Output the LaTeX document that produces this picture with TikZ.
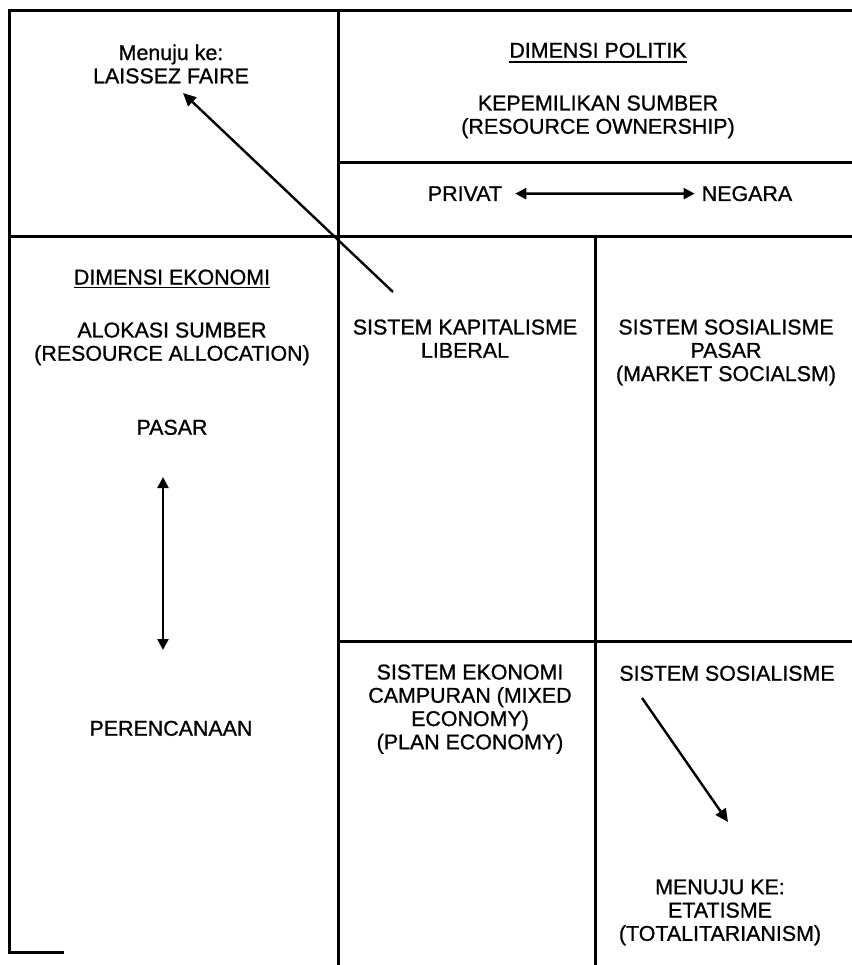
\documentclass[tikz,border=0pt]{standalone}
\usepackage{fontspec}
\setmainfont{Liberation Sans}
\newfontface\heavy{Liberation Sans}[FakeBold=0.9]
\usetikzlibrary{arrows.meta}
\begin{document}
\begin{tikzpicture}[x=1pt,y=-1pt,
  frame/.style={line width=3pt, line cap=rect},
  txt/.style={inner sep=0pt, align=center, font=\heavy\fontsize{21.4}{23.3}\selectfont},
  lbl/.style={inner sep=0pt, font=\heavy\fontsize{21.4}{23.3}\selectfont, anchor=base},
  arr/.style={line width=2.4pt, -{Triangle[length=13pt,width=12pt]}},
  dblarr/.style={line width=2.4pt, {Triangle[length=11pt,width=11pt]}-{Triangle[length=11pt,width=11pt]}},
  uline/.style={line width=1.8pt}]
\useasboundingbox (0,0) rectangle (851,965);
\fill[white] (0,0) rectangle (851,965);

% grid lines
\draw[frame] (9,11) -- (851,11);
\draw[frame] (9,11) -- (9,952) -- (62,952);
\draw[frame] (338,11) -- (338,965);
\draw[frame] (338,163) -- (851,163);
\draw[frame] (9,237) -- (851,237);
\draw[frame] (595,237) -- (595,965);
\draw[frame] (338,641) -- (851,641);

% top-left
\node[txt, anchor=north] (laissez) at (171,44.3) {Menuju ke:\\LAISSEZ FAIRE};

% political dimension
\node[lbl] (dimpol) at (598,57.7) {DIMENSI POLITIK};
\draw[uline] ([yshift=-4pt]dimpol.base west) -- ([yshift=-4pt]dimpol.base east);
\node[txt, anchor=north] (kepemilikan) at (598,95.3) {KEPEMILIKAN SUMBER\\(RESOURCE OWNERSHIP)};
\node[lbl] (privat) at (465,201) {PRIVAT};
\node[lbl] (negara) at (747,201) {NEGARA};
\draw[dblarr, shorten <=13pt, shorten >=7pt] (privat.east) -- (negara.west);

% economic dimension
\node[lbl] (dimeko) at (172,284.5) {DIMENSI EKONOMI};
\draw[uline] ([yshift=-3pt]dimeko.base west) -- ([yshift=-3pt]dimeko.base east);
\node[txt, anchor=north] (alokasi) at (172,322.3) {ALOKASI SUMBER\\(RESOURCE ALLOCATION)};
\node[lbl] (pasar) at (172,434.7) {PASAR};
\node[lbl] (perenc) at (171,735.7) {PERENCANAAN};
\coordinate (pTop) at (163,477);
\coordinate (pBot) at (163,650);
\draw[dblarr] (pTop) -- (pBot);

% cells
\node[txt, anchor=north] (kapitalisme) at (465,319.3) {SISTEM KAPITALISME\\LIBERAL};
\node[txt, anchor=north] (sospasar) at (726,319.3) {SISTEM SOSIALISME\\PASAR\\(MARKET SOCIALSM)};
\node[txt, anchor=north] (campuran) at (470,664.3) {SISTEM EKONOMI\\CAMPURAN (MIXED\\ECONOMY)\\(PLAN ECONOMY)};
\node[lbl] (sosialisme) at (727,680.7) {SISTEM SOSIALISME};
\node[txt, anchor=north] (etatisme) at (720,879.3) {MENUJU KE:\\ETATISME\\(TOTALITARIANISM)};

% diagonal arrows
\coordinate (lfTail) at (393,292);
\coordinate (lfTip) at (183,93);
\draw[arr] (lfTail) -- (lfTip);
\coordinate (etTail) at (642,698);
\coordinate (etTip) at (728,822);
\draw[arr] (etTail) -- (etTip);
\end{tikzpicture}
\end{document}
